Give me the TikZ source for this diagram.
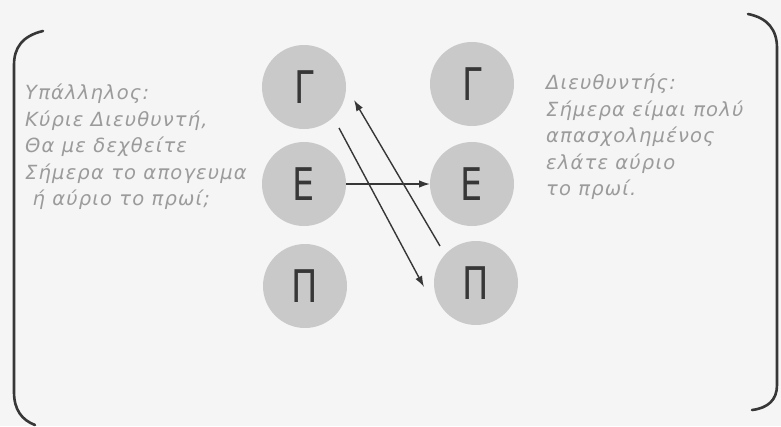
\documentclass[tikz,border=0pt]{standalone}
\usepackage{fontspec}
\setmainfont{DejaVu Sans}
\newfontfamily\letterfont{DejaVu Sans}[FakeStretch=0.78]
\newfontfamily\talkfont{DejaVu Sans}[LetterSpace=6]
\usetikzlibrary{arrows.meta}
\definecolor{disk}{RGB}{201,201,201}
\definecolor{ink}{RGB}{55,55,55}
\definecolor{faint}{RGB}{155,155,155}
\definecolor{paper}{RGB}{245,245,245}

\begin{document}
\begin{tikzpicture}[x=1pt,y=-1pt,
 c/.style={circle,fill=disk,minimum size=84pt,inner sep=0pt,outer sep=0pt,text=ink,font=\letterfont\fontsize{45}{45}\selectfont},
 t/.style={anchor=north west,align=left,text=faint,inner sep=0pt,font=\talkfont\fontsize{19.5}{26.5}\selectfont\itshape},
 a/.style={-{Latex[length=11pt,width=7.5pt]},ink,line width=1.4pt},
 br/.style={ink,line width=2.6pt,line cap=round}]
 \fill[paper] (0,0) rectangle (781,426);
 % brackets
 \draw[br] (43,31) .. controls (22,36) and (14,48) .. (14,65) -- (14,392) .. controls (14,410) and (22,420) .. (35,425);
 \draw[br] (748,14) .. controls (768,18) and (777,30) .. (777,48) -- (777,385) .. controls (777,400) and (768,408) .. (752,410);
 % two columns of circles
 \node[c] (gl) at (304,87) {Γ};
 \node[c] (el) at (304,184) {Ε};
 \node[c] (pl) at (305,286) {Π};
 \node[c] (gr) at (472,84) {Γ};
 \node[c] (er) at (472,184) {Ε};
 \node[c] (pr) at (476,283) {Π};
 \draw[a] (el) -- (er);
 \draw[a] ([shift={(35,41)}]gl.center) -- ([shift={(-52,4)}]pr.center);
 \draw[a] ([shift={(-36,-37)}]pr.center) -- ([shift={(50,13)}]gl.center);
 % dialogue
 \node[t] (ask) at (25,84) {Υπάλληλος:\\Κύριε Διευθυντή,\\Θα με δεχθείτε\\Σήμερα το απογευμα\\\ ή αύριο το πρωί;};
 \node[t] (reply) at (546,74) {Διευθυντής:\\Σήμερα είμαι πολύ\\απασχολημένος\\ελάτε αύριο\\το πρωί.};
\end{tikzpicture}
\end{document}
